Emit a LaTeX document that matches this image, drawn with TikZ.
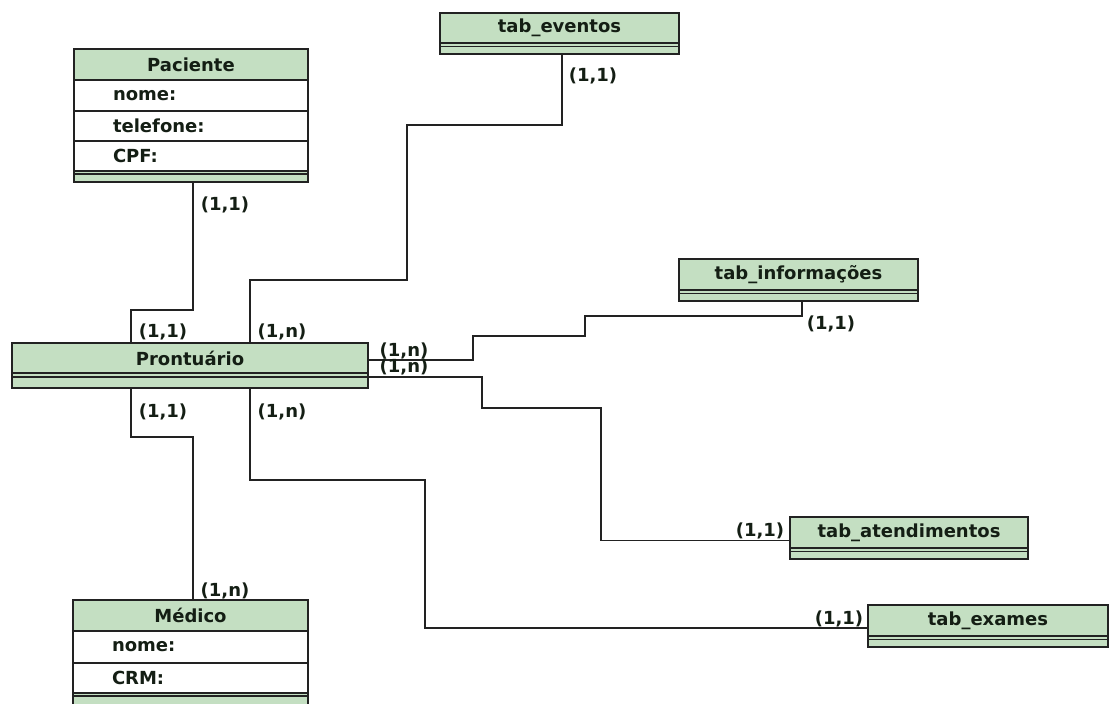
\documentclass[tikz,border=0pt]{standalone}
\usepackage{fontspec}
\setmainfont{DejaVu Sans}
\usetikzlibrary{calc,backgrounds}
\definecolor{boxg}{RGB}{196,223,194}
\definecolor{linec}{RGB}{34,34,34}
\definecolor{txtc}{RGB}{20,30,20}
\definecolor{shad}{RGB}{110,110,110}
\newcommand{\dfont}{\bfseries\fontsize{18}{20}\selectfont}
\tikzset{
  ttl/.style={draw=linec, line width=1.8pt, fill=boxg, inner sep=0pt, outer sep=0pt,
    anchor=north west, font=\dfont, text=txtc},
  attr/.style={draw=linec, line width=1.3pt, fill=white, inner xsep=39pt, inner ysep=0pt,
    outer sep=0pt, anchor=north west, align=left, text width=156pt, font=\dfont, text=txtc},
  foot/.style={draw=linec, line width=1.8pt, fill=boxg, inner sep=0pt, outer sep=0pt,
    anchor=north west},
  dbl/.style={draw=linec, line width=1.4pt},
  conn/.style={draw=linec, line width=1.6pt},
  card/.style={font=\dfont, text=txtc, inner sep=0pt},
  shadowbox/.style={fill=shad}
}
\begin{document}
\begin{tikzpicture}[x=1pt,y=-1pt]
\useasboundingbox (0,0) rectangle (1112,704);
\clip (0,0) rectangle (1112,704);
\fill[white] (0,0) rectangle (1112,704);

% Paciente
\node[ttl, minimum width=234pt, minimum height=31pt] (pac) at (74,49) {Paciente};
\node[attr, minimum height=31pt] (pac1) at (pac.south west) {nome:};
\node[attr, minimum height=30pt] (pac2) at (pac1.south west) {telefone:};
\node[attr, minimum height=30pt] (pac3) at (pac2.south west) {CPF:};
\node[foot, minimum width=234pt, minimum height=11pt] (pacf) at (pac3.south west) {};
\draw[dbl] ($(pacf.north west)+(0,3)$) -- ($(pacf.north east)+(0,3)$);

% Prontuario
\node[ttl, minimum width=356pt, minimum height=30pt] (pr) at (12,343) {Prontuário};
\node[foot, minimum width=356pt, minimum height=15pt] (prf) at (pr.south west) {};
\draw[dbl] ($(prf.north west)+(0,4)$) -- ($(prf.north east)+(0,4)$);

% Medico
\node[ttl, minimum width=235pt, minimum height=31pt] (med) at (73,600) {Médico};
\node[attr, text width=157pt, minimum height=32pt] (med1) at (med.south west) {nome:};
\node[attr, text width=157pt, minimum height=30pt] (med2) at (med1.south west) {CRM:};
\node[foot, minimum width=235pt, minimum height=20pt] (medf) at (med2.south west) {};
\draw[dbl] ($(medf.north west)+(0,3)$) -- ($(medf.north east)+(0,3)$);

% tab_eventos
\node[ttl, minimum width=239pt, minimum height=30pt] (tev) at (440,13) {tab\_eventos};
\node[foot, minimum width=239pt, minimum height=11pt] (tevf) at (tev.south west) {};
\draw[dbl] ($(tevf.north west)+(0,3.5)$) -- ($(tevf.north east)+(0,3.5)$);

% tab_informacoes
\node[ttl, minimum width=239pt, minimum height=31pt] (tinf) at (679,259) {tab\_informações};
\node[foot, minimum width=239pt, minimum height=11pt] (tinff) at (tinf.south west) {};
\draw[dbl] ($(tinff.north west)+(0,3.5)$) -- ($(tinff.north east)+(0,3.5)$);

% tab_atendimentos
\node[ttl, minimum width=238pt, minimum height=31pt] (tat) at (790,517) {tab\_atendimentos};
\node[foot, minimum width=238pt, minimum height=11pt] (tatf) at (tat.south west) {};
\draw[dbl] ($(tatf.north west)+(0,3.5)$) -- ($(tatf.north east)+(0,3.5)$);

% tab_exames
\node[ttl, minimum width=240pt, minimum height=31pt] (tex) at (868,605) {tab\_exames};
\node[foot, minimum width=240pt, minimum height=11pt] (texf) at (tex.south west) {};
\draw[dbl] ($(texf.north west)+(0,3.5)$) -- ($(texf.north east)+(0,3.5)$);

% shadows
\begin{scope}[on background layer]
  \fill[shadowbox] ($(pac.north west)+(3,3)$) rectangle ($(pacf.south east)+(3,3)$);
  \fill[shadowbox] ($(pr.north west)+(3,3)$) rectangle ($(prf.south east)+(3,3)$);
  \fill[shadowbox] ($(med.north west)+(3,3)$) rectangle ($(medf.south east)+(3,3)$);
  \fill[shadowbox] ($(tev.north west)+(3,3)$) rectangle ($(tevf.south east)+(3,3)$);
  \fill[shadowbox] ($(tinf.north west)+(3,3)$) rectangle ($(tinff.south east)+(3,3)$);
  \fill[shadowbox] ($(tat.north west)+(3,3)$) rectangle ($(tatf.south east)+(3,3)$);
  \fill[shadowbox] ($(tex.north west)+(3,3)$) rectangle ($(texf.south east)+(3,3)$);
\end{scope}

% connectors
\draw[conn] ([xshift=2pt]pacf.south) -- ++(0,128) -| ([xshift=119pt]pr.north west);
\draw[conn] ([xshift=238pt]pr.north west) -- ++(0,-63) -| ++(157,-155) -| ([xshift=2.5pt]tevf.south);
\draw[conn] ([yshift=-2pt]pr.east) -- ++(105,0) -- ++(0,-24) -- ++(112,0) -- ++(0,-20) -| ([xshift=3.5pt]tinff.south);
\draw[conn] ([yshift=-4pt]prf.north east) -- ++(114,0) -- ++(0,31) -- ++(119,0) |- ([yshift=-8pt]tat.west);
\draw[conn] ([xshift=119pt]prf.south west) -- ++(0,49) -| ([xshift=2.5pt]med.north);
\draw[conn] ([xshift=238pt]prf.south west) -- ++(0,92) -- ++(175,0) |- ([yshift=-7.5pt]tex.west);

% cardinalities
\node[card] (c1) at (225,205) {(1,1)};
\node[card] (c2) at (163,332) {(1,1)};
\node[card] (c3) at (282,332) {(1,n)};
\node[card] (c4) at (163,412) {(1,1)};
\node[card] (c5) at (282,412) {(1,n)};
\node[card] (c6) at (404,351) {(1,n)};
\node[card] (c7) at (404,367) {(1,n)};
\node[card] (c8) at (593,76) {(1,1)};
\node[card] (c9) at (831,324) {(1,1)};
\node[card] (c10) at (760,531) {(1,1)};
\node[card] (c11) at (839,619) {(1,1)};
\node[card] (c12) at (225,591) {(1,n)};
\end{tikzpicture}
\end{document}
